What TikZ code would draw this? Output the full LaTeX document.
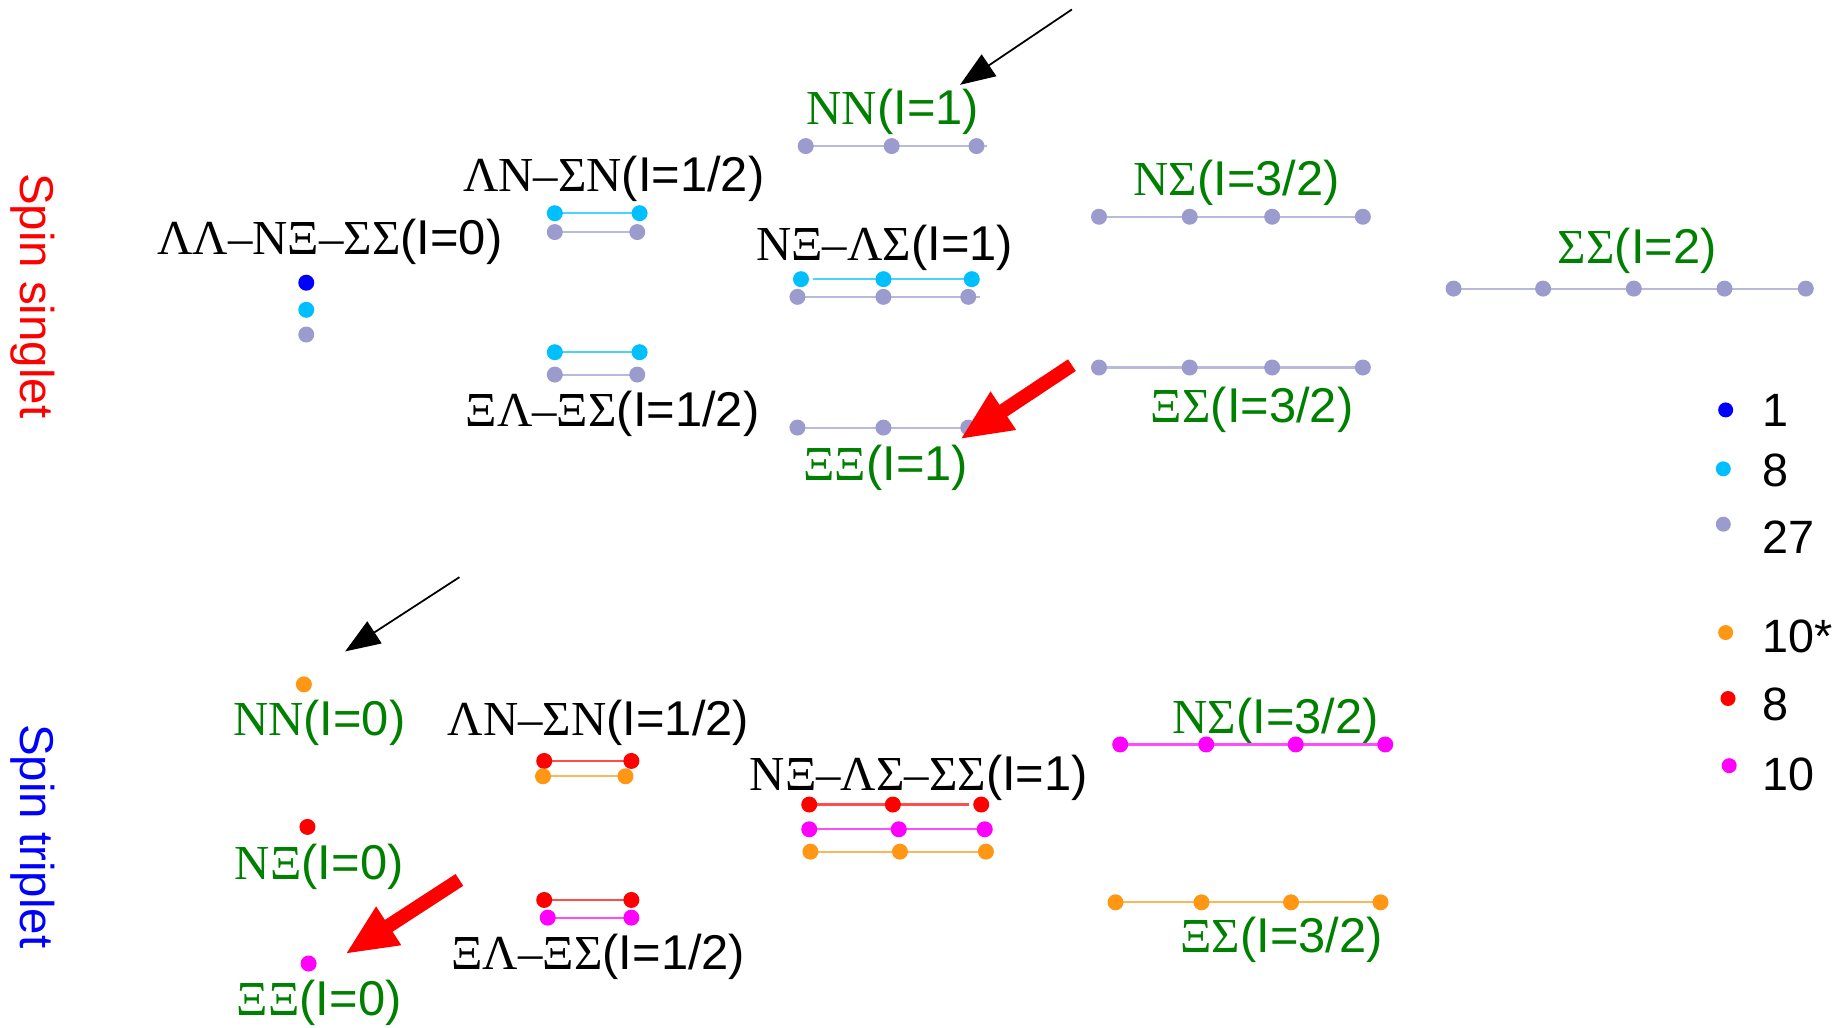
\documentclass[tikz,border=0pt]{standalone}
\usepackage{fontspec}
\setmainfont{Liberation Sans}
\newfontfamily\tms{Liberation Serif}
\usepackage{tikz}
\usetikzlibrary{arrows.meta}
\usepackage{xcolor}

\definecolor{chgreen}{RGB}{0,128,0}
\definecolor{rep1}{RGB}{0,0,255}
\definecolor{rep8}{RGB}{0,191,255}
\definecolor{rep27}{RGB}{155,155,205}
\definecolor{rep10s}{RGB}{255,150,20}
\definecolor{rep8t}{RGB}{255,0,0}
\definecolor{rep10}{RGB}{255,0,255}

% channel label: baryons in serif, isospin in sans
\newcommand{\chan}[2]{{\tms #1}(I=#2)}
% one row of levels: colour, y, line from, line to, dot x list
\newcommand{\dotrow}[5]{%
  \draw[level, #1!70!white] (#3,#2) -- (#4,#2);
  \foreach \xx in {#5} \fill[#1] (\xx,#2) circle (0.08cm);}

\begin{document}
\begin{tikzpicture}[
                x=0.01178cm, y=-0.01178cm,
                lbl/.style={font=\fontsize{13.9}{16}\selectfont, inner sep=0pt},
                glbl/.style={lbl, text=chgreen},
                spin/.style={font=\fontsize{13.5}{16}\selectfont, inner sep=0pt, rotate=-90},
                legtxt/.style={font=\fontsize{13.3}{15}\selectfont, inner sep=0pt, anchor=west},
                level/.style={line width=0.6pt},
                thinarrow/.style={line width=0.5pt, -{Triangle[length=0.35cm, width=0.26cm]}},
                fatarrow/.style={red, line width=4pt, -{Triangle[length=0.52cm, width=0.42cm]}}
            ]
                \useasboundingbox (0,0) rectangle (1568,872);

                % Spin singlet
                \node[spin, text=red] (sing) at (28,251) {Spin singlet};
                \node[lbl] (ss0) at (280,205) {\chan{ΛΛ–NΞ–ΣΣ}{0}};
                \fill[rep1] (260,240) circle (0.08cm);
                \fill[rep8] (260,263) circle (0.08cm);
                \fill[rep27] (260,284) circle (0.08cm);

                \node[lbl] (sln) at (521,152) {\chan{ΛN–ΣN}{1/2}};
                \dotrow{rep8}{181}{471}{543}{471,543}
                \dotrow{rep27}{197}{471}{541}{471,541}
                \dotrow{rep8}{299}{471}{543}{471,543}
                \dotrow{rep27}{318}{471}{541}{471,541}
                \node[lbl] (sxl) at (520,351) {\chan{ΞΛ–ΞΣ}{1/2}};

                \node[glbl] (snn) at (758,95) {\chan{NN}{1}};
                \dotrow{rep27}{124}{684}{838}{684,757,829}
                \node[lbl] (snx) at (751,210) {\chan{NΞ–ΛΣ}{1}};
                \dotrow{rep8}{237}{690}{822}{680,750,825}
                \dotrow{rep27}{252}{677}{832}{677,750,822}
                \dotrow{rep27}{363}{677}{832}{677,750,822}
                \node[glbl] (sxx) at (752,397) {\chan{ΞΞ}{1}};

                \node[glbl] (sns) at (1050,155) {\chan{NΣ}{3/2}};
                \dotrow{rep27}{184}{933}{1157}{933,1010,1080,1157}
                \dotrow{rep27}{312}{933}{1157}{933,1010,1080,1157}
                \node[glbl] (sxs) at (1063,348) {\chan{ΞΣ}{3/2}};

                \node[glbl] (sss) at (1390,213) {\chan{ΣΣ}{2}};
                \dotrow{rep27}{245}{1234}{1533}{1234,1310,1387,1464,1533}

                \coordinate (sa1) at (910,8);
                \coordinate (sa1e) at (815,72);
                \coordinate (sa2) at (910,310);
                \coordinate (sa2e) at (815,373);
                \draw[thinarrow] (sa1) -- (sa1e);
                \draw[fatarrow] (sa2) -- (sa2e);

                % Spin triplet
                \node[spin, text=blue] (trip) at (28,710) {Spin triplet};
                \fill[rep10s] (258,581) circle (0.08cm);
                \node[glbl] (tnn) at (271,614) {\chan{NN}{0}};
                \fill[rep8t] (261,702) circle (0.08cm);
                \node[glbl] (tnx) at (271,736) {\chan{NΞ}{0}};
                \fill[rep10] (262,818) circle (0.08cm);
                \node[glbl] (txx) at (271,851) {\chan{ΞΞ}{0}};

                \node[lbl] (tln) at (508,614) {\chan{ΛN–ΣN}{1/2}};
                \dotrow{rep8t}{646}{462}{536}{462,536}
                \dotrow{rep10s}{659}{461}{531}{461,531}
                \dotrow{rep8t}{764}{462}{536}{462,536}
                \dotrow{rep10}{779}{465}{536}{465,536}
                \node[lbl] (txl) at (508,812) {\chan{ΞΛ–ΞΣ}{1/2}};

                \node[lbl] (tnx1) at (780,660) {\chan{NΞ–ΛΣ–ΣΣ}{1}};
                \dotrow{rep8t}{683}{687}{823}{687,758,833}
                \dotrow{rep10}{704}{687}{840}{687,763,836}
                \dotrow{rep10s}{723}{683}{837}{688,764,837}

                \node[glbl] (tns) at (1083,612) {\chan{NΣ}{3/2}};
                \dotrow{rep10}{632}{951}{1176}{951,1024,1100,1176}
                \dotrow{rep10s}{766}{947}{1172}{947,1020,1096,1172}
                \node[glbl] (txs) at (1088,798) {\chan{ΞΣ}{3/2}};

                \coordinate (ta1) at (390,490);
                \coordinate (ta1e) at (293,553);
                \coordinate (ta2) at (390,747);
                \coordinate (ta2e) at (293,810);
                \draw[thinarrow] (ta1) -- (ta1e);
                \draw[fatarrow] (ta2) -- (ta2e);

                % Legend
                \fill[rep1] (1465,348) circle (0.075cm);
                \node[legtxt] (l1) at (1496,348) {1};
                \fill[rep8] (1463,398) circle (0.075cm);
                \node[legtxt] (l8) at (1496,399) {8};
                \fill[rep27] (1463,445) circle (0.075cm);
                \node[legtxt] (l27) at (1496,456) {27};
                \fill[rep10s] (1465,537) circle (0.075cm);
                \node[legtxt] (l10s) at (1496,540) {10*};
                \fill[rep8t] (1467,593) circle (0.075cm);
                \node[legtxt] (l8t) at (1496,598) {8};
                \fill[rep10] (1468,650) circle (0.075cm);
                \node[legtxt] (l10) at (1496,657) {10};
            \end{tikzpicture}
\end{document}
